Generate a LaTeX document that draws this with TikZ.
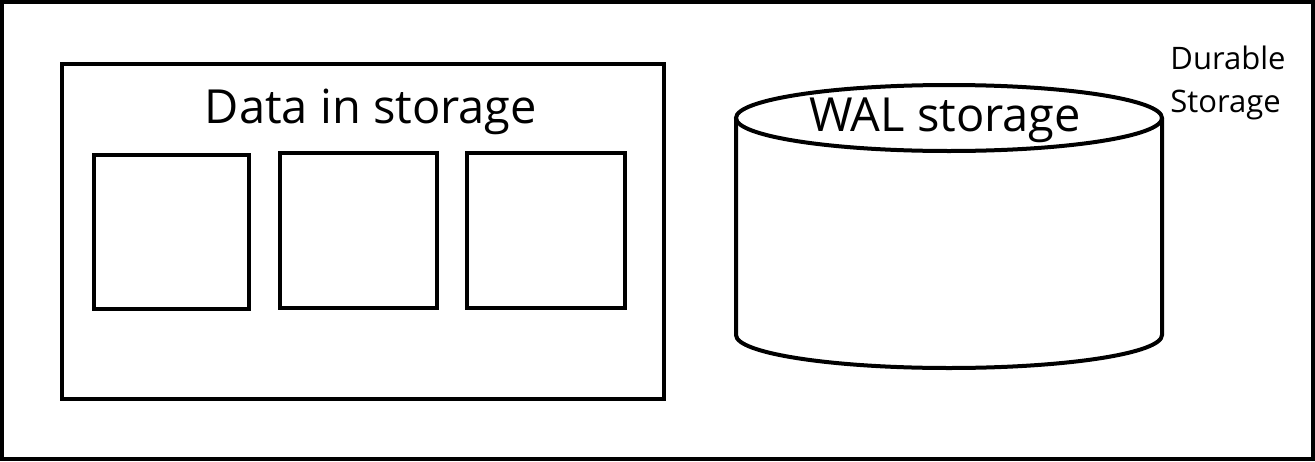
\documentclass[tikz,border=0pt]{standalone}
\usepackage{fontspec}
\setmainfont{Open Sans}
\begin{document}
\begin{tikzpicture}[x=1pt,y=-1pt,
  box/.style={draw=black,line width=4pt},
  lbl/.style={inner sep=0pt,font=\fontsize{47}{56}\selectfont},
  small/.style={inner sep=0pt,font=\fontsize{31}{43}\selectfont,align=left}]
\useasboundingbox (0,0) rectangle (1315,461);
\draw[box] (2,2) rectangle (1313,459);
\draw[box] (62,64) rectangle (664,399);
\node[box,minimum width=155pt,minimum height=154pt,inner sep=0pt] (b1) at (171.5,232) {};
\node[box,minimum width=157pt,minimum height=155pt,inner sep=0pt] (b2) at (358.5,230.5) {};
\node[box,minimum width=158pt,minimum height=155pt,inner sep=0pt] (b3) at (546,230.5) {};
\node[lbl] (data) at (371,112) {Data in storage};
% cylinder
\draw[box] (736,118) -- (736,335) arc[start angle=180,end angle=0,x radius=213,y radius=33] -- (1162,118);
\draw[box] (949,118) ellipse[x radius=213,y radius=33];
\node[lbl] (wal) at (945,120) {WAL storage};
\node[small] (dur) at (1228,83) {Durable\\Storage};
\end{tikzpicture}
\end{document}
